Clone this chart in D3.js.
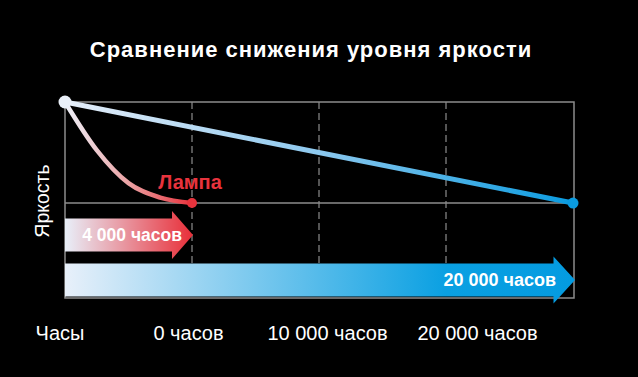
<!DOCTYPE html>
<html>
<head>
<meta charset="utf-8">
<script src="https://cdn.jsdelivr.net/npm/d3@7"></script>
<style>
  body { margin: 0; background: #000; }
  text { font-family: "Liberation Sans", Arial, sans-serif; }
</style>
</head>
<body>
<script>
// data
const tickLabels = ["Часы", "0 часов", "10 000 часов", "20 000 часов"];
const lampT = [0, 0.25, 0.5, 0.75, 1];
const lampV = [100, 85.7, 75.9, 71.6, 70];
const ledT = [0, 4];
const ledV = [100, 70];
const barNames = ["lamp", "led"];
const barEnds = [1, 4];
const barLabels = ["4 000 часов", "20 000 часов"];

// label nudges (layout only)
const tickDx = [-5.5, -4, 8, 31];

const w = 638, h = 377;
const svg = d3.select("body").append("svg").attr("width", w).attr("height", h);

const x = d3.scaleLinear().domain([0, 4]).range([65, 573]);
const y = d3.scaleLinear().domain([41.8, 100]).range([298, 102]);

// gradients
const defs = svg.append("defs");
function grad(id, x1, x2, stops) {
  const g = defs.append("linearGradient").attr("id", id)
    .attr("gradientUnits", "userSpaceOnUse")
    .attr("x1", x1).attr("x2", x2).attr("y1", 0).attr("y2", 0);
  stops.forEach(s => g.append("stop").attr("offset", s[0]).attr("stop-color", s[1]));
}
grad("gLampLine", x(0), x(1), [[0, "#eef2fa"], [0.5, "#eba2a4"], [1, "#e8333d"]]);
grad("gLedLine", x(0), x(4), [[0, "#e6eef9"], [0.5, "#8cc8ee"], [1, "#0a9be0"]]);
grad("gLampBar", x(0), x(1), [[0, "#e8eff9"], [1, "#e8303a"]]);
grad("gLedBar", x(0), x(4), [[0, "#e8f0fa"], [0.75, "#0aa0e2"], [1, "#049be0"]]);

// title
svg.append("text").attr("x", 311).attr("y", 57).attr("text-anchor", "middle")
  .attr("fill", "#fff").attr("font-size", 22).attr("font-weight", "bold")
  .attr("letter-spacing", 1)
  .text("Сравнение снижения уровня яркости");

// frame and grid
const g = svg.append("g");
g.append("rect").attr("x", x(0)).attr("y", y(100)).attr("width", x(4) - x(0) + 1)
  .attr("height", y.range()[0] - y(100)).attr("fill", "none").attr("stroke", "#8c8c8c").attr("stroke-width", 1.5);
g.append("line").attr("x1", x(0)).attr("x2", x(4)).attr("y1", y(70)).attr("y2", y(70))
  .attr("stroke", "#8c8c8c").attr("stroke-width", 1.5);
g.selectAll(".vgrid").data([1, 2, 3]).enter().append("line")
  .attr("x1", d => x(d)).attr("x2", d => x(d)).attr("y1", y(100)).attr("y2", 298)
  .attr("stroke", "#8c8c8c").attr("stroke-width", 1.2).attr("stroke-dasharray", "7,4");

// x axis labels
const xAxis = d3.axisBottom(x).tickValues([0, 1, 2, 3]).tickFormat((d, i) => tickLabels[i]).tickSize(0).tickPadding(0);
const ax = svg.append("g").attr("transform", "translate(0,340)").call(xAxis);
ax.select(".domain").remove();
ax.selectAll("text").attr("fill", "#fff").attr("font-size", 20).attr("y", 0).attr("dy", 0)
  .attr("dx", (d, i) => tickDx[i]);

// y label
svg.append("text").attr("transform", "translate(49,201) rotate(-90)").attr("text-anchor", "middle")
  .attr("fill", "#fff").attr("font-size", 19.5).text("Яркость");

// bars (arrows)
const barTop = [218.5, 263.5], barBot = [251.5, 296.5], headExt = [7.5, 7], headLen = [21, 21.5];
const labelEnd = [182, 556], labelSize = [17.5, 18];
barNames.forEach((n, i) => {
  const x0 = x(0), x1 = x(barEnds[i]) + (i === 1 ? 2 : 1), hx = x1 - headLen[i];
  const t = barTop[i], b = barBot[i], m = (t + b) / 2;
  const pts = [[x0, t], [hx, t], [hx, t - headExt[i]], [x1, m], [hx, b + headExt[i]], [hx, b], [x0, b]];
  svg.append("path").attr("d", d3.line()(pts) + "Z").attr("fill", i === 0 ? "url(#gLampBar)" : "url(#gLedBar)");
  svg.append("text").attr("x", labelEnd[i]).attr("y", m).attr("dy", "0.36em")
    .attr("text-anchor", "end").attr("fill", "#fff").attr("font-size", labelSize[i]).attr("font-weight", "bold")
    .text(barLabels[i]);
});

// lines
const line = d3.line().x(d => x(d[0])).y(d => y(d[1])).curve(d3.curveMonotoneX);
svg.append("path").datum(ledT.map((t, i) => [t, ledV[i]])).attr("d", line)
  .attr("fill", "none").attr("stroke", "url(#gLedLine)").attr("stroke-width", 5);
svg.append("path").datum(lampT.map((t, i) => [t, lampV[i]])).attr("d", line)
  .attr("fill", "none").attr("stroke", "url(#gLampLine)").attr("stroke-width", 4.5);

// dots
svg.append("circle").attr("cx", x(lampT[lampT.length - 1])).attr("cy", y(lampV[lampV.length - 1])).attr("r", 5).attr("fill", "#e8333d");
svg.append("circle").attr("cx", x(ledT[1])).attr("cy", y(ledV[1])).attr("r", 5.5).attr("fill", "#0a9be0");
svg.append("circle").attr("cx", x(0)).attr("cy", y(100)).attr("r", 6.5).attr("fill", "#e9eff8");

// lamp label
svg.append("text").attr("x", 190).attr("y", 188.5).attr("text-anchor", "middle")
  .attr("fill", "#e8333d").attr("font-size", 20).attr("font-weight", "bold").text("Лампа");
</script>
</body>
</html>
